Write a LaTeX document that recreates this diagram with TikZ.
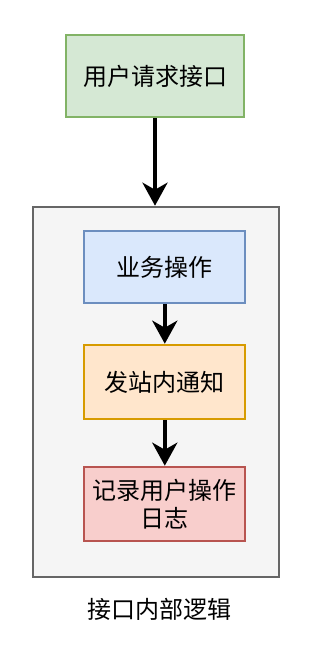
\documentclass[tikz,border=0pt]{standalone}
\usepackage{fontspec}
\newfontfamily\cjk{Noto Sans CJK SC}
\usetikzlibrary{arrows.meta}
\definecolor{gfill}{HTML}{D5E8D4}\definecolor{gline}{HTML}{82B366}
\definecolor{bfill}{HTML}{DAE8FC}\definecolor{bline}{HTML}{6C8EBF}
\definecolor{ofill}{HTML}{FFE6CC}\definecolor{oline}{HTML}{D79B00}
\definecolor{rfill}{HTML}{F8CECC}\definecolor{rline}{HTML}{B85450}
\definecolor{cfill}{HTML}{F5F5F5}\definecolor{cline}{HTML}{666666}
\begin{document}
\begin{tikzpicture}[x=1pt,y=-1pt,
  box/.style={draw,line width=2pt,inner sep=0pt,align=center,
    font=\cjk\fontsize{24}{28.5}\selectfont},
  flow/.style={line width=4pt,-{Stealth[length=23pt,width=25pt,inset=7pt]}},
  lbl/.style={font=\cjk\fontsize{24}{28.5}\selectfont,inner sep=0pt}]
\useasboundingbox (0,0) rectangle (308,656);
\node[box,fill=gfill,draw=gline,minimum width=178pt,minimum height=82pt] (top) at (155,76) {用户请求接口};
\node[draw=cline,fill=cfill,line width=2pt,minimum width=246.6pt,minimum height=370pt,inner sep=0pt] (cont) at (156,391.7) {};
\node[box,fill=bfill,draw=bline,minimum width=161pt,minimum height=72.6pt] (b1) at (164.8,267) {业务操作};
\node[box,fill=ofill,draw=oline,minimum width=161pt,minimum height=74.6pt] (b2) at (164.8,382) {发站内通知};
\node[box,fill=rfill,draw=rline,minimum width=161pt,minimum height=74.6pt] (b3) at (164.8,504) {记录用户操作\\日志};
\node[lbl] (cap) at (159,609) {接口内部逻辑};
\draw[flow] (top.south) -- (top.south |- cont.north);
\draw[flow] (b1.south) -- (b2.north);
\draw[flow] (b2.south) -- (b3.north);
\end{tikzpicture}
\end{document}
